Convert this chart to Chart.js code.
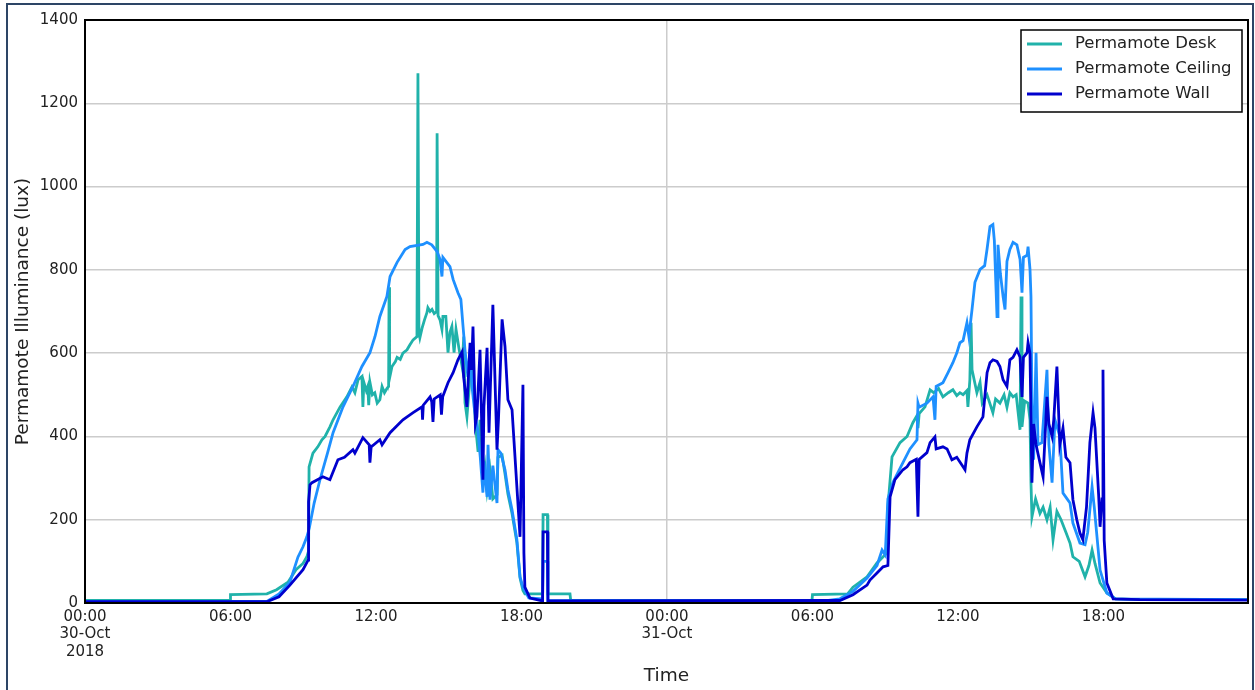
<!DOCTYPE html>
<html lang="en">
<head>
    <meta charset="UTF-8">
    <title>Permamote Illuminance</title>
    <script src="https://cdn.jsdelivr.net/npm/chart.js@4.4.0/dist/chart.umd.min.js"></script>
    <style>
        body { margin: 0; background: #ffffff; }
        .wrap { position: relative; width: 1255px; height: 690px; overflow: hidden; }
        .frame { position: absolute; left: 6px; top: 3px; width: 1244px; height: 700px;
                 border: 2px solid #2d4566; pointer-events: none; }
        canvas { position: absolute; left: 0; top: 0; }
    </style>
</head>
<body>
<div class="wrap">
    <canvas id="myChart" width="1255" height="690"></canvas>
    <div class="frame"></div>
</div>
<script>
    // hours since 00:00 30-Oct, and lux
    var deskHours = [
        0, 5.98, 6.0, 7.5, 7.9, 8.37, 8.7, 8.99, 9.15, 9.22,
        9.24, 9.40, 9.60, 9.77, 9.90, 10.10, 10.23, 10.52, 10.80, 11.01,
        11.13, 11.26, 11.42, 11.46, 11.50, 11.60, 11.66, 11.70, 11.75, 11.85,
        11.95, 12.05, 12.16, 12.25, 12.35, 12.45, 12.52, 12.54, 12.56, 12.66,
        12.80, 12.87, 13.00, 13.11, 13.28, 13.40, 13.53, 13.69, 13.73, 13.77,
        13.81, 13.90, 14.00, 14.10, 14.14, 14.23, 14.31, 14.40, 14.50, 14.52,
        14.56, 14.64, 14.72, 14.76, 14.88, 14.97, 15.05, 15.13, 15.22, 15.30,
        15.42, 15.55, 15.62, 15.67, 15.75, 15.85, 15.92, 16.00, 16.10, 16.21,
        16.29, 16.41, 16.49, 16.58, 16.70, 16.82, 16.99, 17.03, 17.20, 17.32,
        17.44, 17.61, 17.81, 17.94, 18.06, 18.14, 18.87, 18.89, 19.07, 19.09,
        20.00, 20.03, 29.98, 30.00, 31.45, 31.67, 32.25, 32.66, 33.07, 33.11,
        33.28, 33.61, 33.90, 34.14, 34.31, 34.35, 34.40, 34.64, 34.85, 35.00,
        35.20, 35.38, 35.60, 35.79, 35.95, 36.08, 36.21, 36.37, 36.41, 36.49,
        36.54, 36.58, 36.78, 36.91, 37.00, 37.20, 37.44, 37.55, 37.73, 37.90,
        38.02, 38.14, 38.27, 38.40, 38.56, 38.60, 38.64, 38.75, 38.89, 38.97,
        39.01, 39.05, 39.20, 39.38, 39.51, 39.67, 39.80, 39.92, 40.08, 40.25,
        40.45, 40.62, 40.74, 41.00, 41.24, 41.40, 41.53, 41.65, 41.86, 42.14,
        42.50, 43.50, 47.96
    ];
    var deskLux = [
        6, 6, 20, 22, 32, 50, 80, 95, 111, 125,
        327, 360, 375, 392, 400, 423, 440, 471, 495, 519,
        505, 536, 544, 471, 530, 510, 520, 475, 530, 500,
        505, 480, 488, 520, 505, 515, 520, 758, 540, 568,
        580, 590, 585, 600, 608, 620, 632, 640, 1272, 650,
        637, 660, 680, 697, 709, 700, 705, 695, 700, 1128,
        690, 680, 657, 688, 688, 601, 650, 664, 601, 657,
        612, 568, 640, 481, 447, 520, 600, 560, 430, 363,
        440, 300, 330, 270, 320, 250, 260, 350, 355, 310,
        262, 215, 145, 60, 30, 22, 22, 212, 212, 22,
        22, 6, 6, 20, 22, 38, 63, 96, 120, 231,
        351, 385, 400, 433, 450, 420, 455, 471, 512, 505,
        515, 495, 505, 512, 498, 505, 500, 510, 471, 536,
        673, 560, 505, 530, 480, 500, 457, 490, 480, 500,
        470, 505, 495, 500, 416, 736, 423, 485, 480, 440,
        289, 207, 250, 215, 230, 200, 230, 152, 220, 200,
        170, 144, 111, 100, 63, 90, 127, 95, 48, 24,
        10, 8, 8
    ];

    var ceilingHours = [
        0, 7.5, 8.0, 8.45, 8.78, 8.99, 9.15, 9.25, 9.45, 9.69,
        10.0, 10.23, 10.64, 11.05, 11.42, 11.75, 11.96, 12.16, 12.45, 12.58,
        12.87, 13.20, 13.40, 13.94, 14.10, 14.30, 14.52, 14.64, 14.72, 14.76,
        15.05, 15.18, 15.38, 15.50, 15.59, 15.67, 15.79, 15.88, 15.96, 16.05,
        16.21, 16.30, 16.41, 16.45, 16.58, 16.62, 16.70, 16.82, 16.99, 17.03,
        17.15, 17.32, 17.44, 17.61, 17.81, 17.94, 18.06, 18.30, 18.87, 18.89,
        19.07, 19.09, 30.5, 31.13, 31.67, 32.25, 32.66, 32.87, 33.00, 33.11,
        33.32, 33.73, 34.02, 34.31, 34.35, 34.40, 34.72, 34.97, 35.05, 35.10,
        35.38, 35.59, 35.79, 35.95, 36.08, 36.21, 36.37, 36.45, 36.58, 36.70,
        36.91, 37.10, 37.20, 37.32, 37.44, 37.50, 37.61, 37.65, 37.75, 37.86,
        37.94, 38.02, 38.14, 38.27, 38.43, 38.56, 38.64, 38.70, 38.85, 38.89,
        38.97, 39.01, 39.05, 39.12, 39.22, 39.30, 39.46, 39.67, 39.75, 39.88,
        40.00, 40.20, 40.33, 40.50, 40.62, 40.74, 41.03, 41.24, 41.35, 41.53,
        41.62, 41.86, 42.14, 42.50, 47.96
    ];
    var ceilingLux = [
        4, 4, 22, 50, 110, 135, 159, 180, 240, 296,
        360, 409, 471, 520, 568, 601, 640, 688, 736, 784,
        818, 849, 856, 861, 866, 860, 844, 825, 784, 830,
        808, 777, 745, 729, 664, 608, 543, 610, 520, 470,
        409, 350, 265, 340, 255, 380, 248, 330, 240, 368,
        360, 320, 272, 224, 152, 63, 38, 12, 10, 100,
        100, 6, 5, 10, 28, 60, 90, 127, 115, 250,
        290, 337, 370, 392, 480, 470, 480, 495, 440, 520,
        529, 553, 577, 600, 625, 630, 673, 640, 705, 770,
        801, 810, 850, 904, 909, 870, 688, 860, 790, 736,
        705, 820, 849, 866, 860, 825, 745, 830, 835, 856,
        801, 736, 480, 344, 601, 380, 385, 560, 380, 289,
        440, 400, 264, 250, 240, 192, 144, 140, 170, 279,
        230, 79, 24, 10, 8
    ];

    var wallHours = [
        0, 7.5, 8.0, 8.45, 8.99, 9.20, 9.22, 9.28, 9.36, 9.81,
        10.10, 10.43, 10.70, 11.05, 11.13, 11.46, 11.72, 11.75, 11.80, 12.16,
        12.25, 12.58, 13.11, 13.53, 13.90, 13.92, 13.95, 14.23, 14.30, 14.35,
        14.40, 14.65, 14.70, 14.75, 14.97, 15.18, 15.38, 15.55, 15.62, 15.75,
        15.88, 15.94, 16.00, 16.10, 16.16, 16.29, 16.41, 16.45, 16.58, 16.66,
        16.82, 16.99, 17.05, 17.20, 17.32, 17.44, 17.61, 17.94, 18.06, 18.10,
        18.14, 18.35, 18.87, 18.89, 19.07, 19.09, 31.13, 31.67, 32.25, 32.37,
        32.66, 32.91, 33.11, 33.20, 33.40, 33.73, 33.90, 34.02, 34.28, 34.35,
        34.40, 34.72, 34.85, 35.05, 35.10, 35.38, 35.55, 35.75, 35.95, 36.21,
        36.29, 36.37, 36.49, 36.78, 37.03, 37.20, 37.32, 37.44, 37.61, 37.73,
        37.86, 38.02, 38.14, 38.27, 38.43, 38.56, 38.64, 38.70, 38.85, 38.89,
        38.97, 39.05, 39.12, 39.22, 39.38, 39.51, 39.67, 39.75, 39.88, 39.95,
        40.08, 40.20, 40.33, 40.45, 40.62, 40.74, 40.90, 41.03, 41.15, 41.30,
        41.44, 41.57, 41.65, 41.80, 41.86, 41.94, 41.98, 42.03, 42.14, 42.40,
        43.50, 47.96
    ];
    var wallLux = [
        3, 3, 15, 43, 80, 103, 243, 284, 289, 303,
        296, 344, 350, 368, 360, 397, 380, 337, 375, 392,
        380, 409, 440, 457, 471, 440, 475, 495, 483, 435,
        490, 500, 452, 495, 529, 553, 584, 603, 540, 471,
        625, 560, 664, 430, 447, 608, 296, 470, 613, 409,
        716, 368, 440, 681, 616, 488, 464, 159, 524, 120,
        38, 12, 5, 171, 171, 5, 6, 20, 43, 55,
        72, 87, 90, 255, 296, 320, 327, 337, 345, 207,
        345, 361, 385, 399, 370, 375, 370, 344, 350, 327,
        320, 360, 392, 423, 447, 553, 577, 584, 580, 568,
        536, 520, 584, 590, 608, 590, 495, 590, 601, 625,
        600, 289, 430, 380, 337, 303, 495, 430, 400, 440,
        568, 380, 420, 350, 337, 248, 200, 168, 152, 230,
        385, 457, 420, 260, 183, 250, 560, 150, 48, 10,
        8, 7
    ];

    var seriesNames = ['Permamote Desk', 'Permamote Ceiling', 'Permamote Wall'];
    var seriesColors = ['#20b2aa', '#1e90ff', '#0000cd'];

    var tickHours = [0, 6, 12, 18, 24, 30, 36, 42];
    var tickLabels = [
        ['00:00', '30-Oct', '2018'], '06:00', '12:00', '18:00',
        ['00:00', '31-Oct'], '06:00', '12:00', '18:00'
    ];
    var xMax = 47.96;
    var yMax = 1400;

    function toPoints(hours, lux) {
        return hours.map(function (h, i) { return { x: h, y: lux[i] }; });
    }

    var FONT = 'DejaVu Sans';

    // black box round the plot area, drawn over the lines
    var framePlugin = {
        id: 'frame',
        afterDatasetsDraw: function (chart) {
            var a = chart.chartArea, ctx = chart.ctx;
            ctx.save();
            ctx.strokeStyle = '#000000';
            ctx.lineWidth = 2;
            ctx.strokeRect(a.left, a.top, a.right - a.left, a.bottom - a.top);
            ctx.restore();
        }
    };

    // legend inside the upper right corner
    var boxLegend = {
        id: 'boxLegend',
        afterDraw: function (chart) {
            var a = chart.chartArea, ctx = chart.ctx;
            var w = 221, h = 82;
            var x0 = a.right - 6 - w, y0 = a.top + 10;
            ctx.save();
            ctx.fillStyle = '#ffffff';
            ctx.fillRect(x0, y0, w, h);
            ctx.strokeStyle = '#000000';
            ctx.lineWidth = 1.5;
            ctx.strokeRect(x0, y0, w, h);
            ctx.font = '16.5px "' + FONT + '"';
            ctx.textBaseline = 'middle';
            chart.data.datasets.forEach(function (ds, i) {
                var yy = y0 + 14 + i * 25;
                ctx.strokeStyle = ds.borderColor;
                ctx.lineWidth = 2.8;
                ctx.beginPath();
                ctx.moveTo(x0 + 6, yy);
                ctx.lineTo(x0 + 41, yy);
                ctx.stroke();
                ctx.fillStyle = '#222222';
                ctx.fillText(ds.label, x0 + 54, yy);
            });
            ctx.restore();
        }
    };

    function createChart() {
        var ctx = document.getElementById('myChart').getContext('2d');
        var lists = [[deskHours, deskLux], [ceilingHours, ceilingLux], [wallHours, wallLux]];
        var datasets = lists.map(function (l, i) {
            return {
                label: seriesNames[i],
                data: toPoints(l[0], l[1]),
                borderColor: seriesColors[i],
                backgroundColor: seriesColors[i],
                borderWidth: 2.8,
                pointRadius: 0,
                tension: 0,
                fill: false,
                order: 3 - i
            };
        });

        new Chart(ctx, {
            type: 'line',
            data: { datasets: datasets },
            options: {
                responsive: false,
                animation: false,
                events: [],
                layout: { padding: { top: 20, right: 7, bottom: 0, left: 0 } },
                plugins: { legend: { display: false }, tooltip: { enabled: false } },
                scales: {
                    x: {
                        type: 'linear',
                        min: 0,
                        max: xMax,
                        afterBuildTicks: function (s) {
                            s.ticks = tickHours.map(function (v) { return { value: v }; });
                        },
                        afterFit: function (s) { s.height = 87; },
                        ticks: {
                            autoSkip: false,
                            maxRotation: 0,
                            padding: 5,
                            color: '#222222',
                            font: { family: FONT, size: 15, lineHeight: 1.17 },
                            callback: function (v) { return tickLabels[tickHours.indexOf(v)]; }
                        },
                        grid: {
                            drawTicks: false,
                            lineWidth: 1.5,
                            color: function (c) {
                                return c.tick && c.tick.value === 24 ? '#cccccc' : 'rgba(0,0,0,0)';
                            }
                        },
                        border: { display: false },
                        title: {
                            display: true,
                            text: 'Time',
                            color: '#222222',
                            font: { family: FONT, size: 18.5 },
                            padding: { top: 0, bottom: 3 }
                        }
                    },
                    y: {
                        min: 0,
                        max: yMax,
                        afterFit: function (s) { s.width = 85; },
                        ticks: {
                            stepSize: 200,
                            padding: 7,
                            color: '#222222',
                            font: { family: FONT, size: 15 },
                            callback: function (v) { return String(v); }
                        },
                        grid: { drawTicks: false, lineWidth: 1.5, color: '#cccccc' },
                        border: { display: false },
                        title: {
                            display: true,
                            text: 'Permamote Illuminance (lux)',
                            color: '#222222',
                            font: { family: FONT, size: 18.5 },
                            padding: { top: 12, bottom: 0 }
                        }
                    }
                }
            },
            plugins: [framePlugin, boxLegend]
        });
    }
    createChart();
</script>
</body>
</html>
